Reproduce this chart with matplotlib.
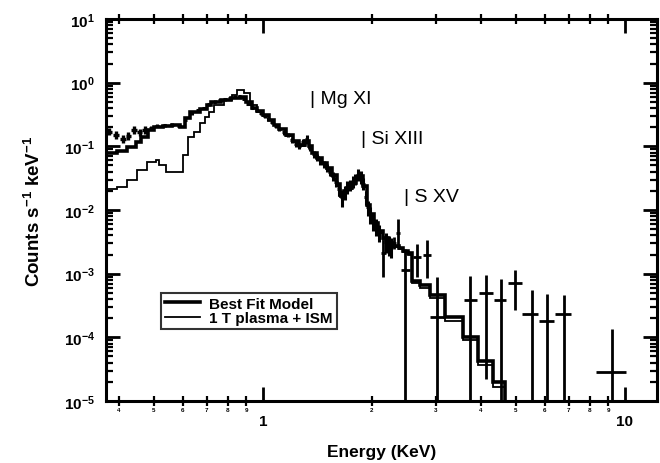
import matplotlib
matplotlib.use("Agg")
import matplotlib.pyplot as plt
from matplotlib.ticker import FixedLocator, FuncFormatter, NullFormatter
import numpy as np

plt.rcParams['font.family'] = ['Liberation Sans', 'DejaVu Sans']
plt.rcParams['mathtext.fontset'] = 'custom'
plt.rcParams['mathtext.rm'] = 'Liberation Sans'
plt.rcParams['mathtext.bf'] = 'Liberation Sans:bold'
plt.rcParams['mathtext.default'] = 'regular'

# ---------------- data ----------------
# Best fit model (step histogram): left bin edges and values, last edge
fit_left = [0.360, 0.395, 0.420, 0.445, 0.460, 0.480, 0.500, 0.530, 0.560, 0.590,
            0.610, 0.630, 0.670, 0.700, 0.720, 0.765, 0.815, 0.870, 0.900, 0.930,
            0.960, 1.000, 1.040, 1.070, 1.110, 1.160, 1.210, 1.260, 1.310, 1.340,
            1.370, 1.410, 1.460, 1.500, 1.550, 1.600, 1.630, 1.670, 1.710, 1.760,
            1.810, 1.850, 1.890, 1.940, 1.980, 2.020, 2.080, 2.140, 2.210, 2.290,
            2.370, 2.440, 2.520, 2.580, 2.720, 2.890, 3.180, 3.570, 3.930, 4.320]
fit_vals = [0.080, 0.086, 0.096, 0.115, 0.140, 0.180, 0.200, 0.210, 0.220, 0.200,
            0.280, 0.340, 0.380, 0.450, 0.500, 0.540, 0.580, 0.600, 0.500, 0.400,
            0.360, 0.310, 0.260, 0.220, 0.190, 0.150, 0.120, 0.105, 0.120, 0.100,
            0.080, 0.066, 0.055, 0.046, 0.035, 0.026, 0.017, 0.020, 0.022, 0.027,
            0.032, 0.034, 0.024, 0.012, 0.0085, 0.0063, 0.0046, 0.0036, 0.0030, 0.0027,
            0.0025, 0.0023, 0.0021, 0.00078, 0.00066, 0.00047, 0.00021, 0.000102, 0.000043, 0.0000200]
fit_end = 4.66

# 1 T plasma + ISM model
pl_left = [0.360, 0.395, 0.420, 0.449, 0.478, 0.506, 0.516, 0.540, 0.568, 0.600,
           0.620, 0.645, 0.670, 0.690, 0.710, 0.730, 0.780, 0.820, 0.850, 0.886,
           0.920, 0.960, 1.000, 1.040, 1.070, 1.110, 1.160, 1.210, 1.260, 1.310,
           1.340, 1.370, 1.410, 1.460, 1.500, 1.550, 1.600, 1.630, 1.670, 1.710,
           1.760, 1.810, 1.850, 1.890, 1.940, 1.980, 2.020, 2.080, 2.140, 2.210,
           2.290, 2.370, 2.440, 2.520, 2.580, 2.720, 2.890, 3.180, 3.570, 3.930, 4.320]
pl_vals = [0.021, 0.023, 0.030, 0.043, 0.057, 0.062, 0.050, 0.039, 0.040, 0.074,
           0.140, 0.170, 0.230, 0.290, 0.350, 0.450, 0.540, 0.650, 0.780, 0.700,
           0.450, 0.350, 0.300, 0.255, 0.215, 0.185, 0.145, 0.118, 0.100, 0.115,
           0.095, 0.078, 0.064, 0.053, 0.044, 0.034, 0.025, 0.016, 0.019, 0.021,
           0.026, 0.031, 0.033, 0.023, 0.0115, 0.0082, 0.0060, 0.0044, 0.0034, 0.0029,
           0.0026, 0.0024, 0.0022, 0.0020, 0.00072, 0.00060, 0.00042, 0.00018, 0.000090, 0.000037, 0.0000165]
pl_end = 4.66

# observed spectrum: low-energy points
low_E = [0.375, 0.393, 0.410, 0.425, 0.440, 0.456, 0.472]
low_C = [0.170, 0.150, 0.130, 0.145, 0.180, 0.165, 0.180]

# observed spectrum: dense middle region
mid_E = [0.490, 0.51, 0.535, 0.56, 0.585, 0.61, 0.635, 0.66, 0.685, 0.71, 0.735, 0.76,
         0.785, 0.81, 0.835, 0.86, 0.885, 0.91, 0.935, 0.96, 0.985, 1.01, 1.035,
         1.06, 1.085, 1.11, 1.14, 1.17, 1.20, 1.23, 1.26, 1.29, 1.32, 1.35, 1.38,
         1.41, 1.44, 1.47, 1.50, 1.53, 1.56, 1.59, 1.62, 1.65, 1.68, 1.71, 1.74,
         1.77, 1.80, 1.83, 1.86, 1.89, 1.92, 1.95, 1.98, 2.01, 2.05, 2.09, 2.18,
         2.23, 2.26]
mid_C = [0.195, 0.21, 0.215, 0.22, 0.21, 0.26, 0.33, 0.37, 0.40, 0.46, 0.50, 0.53,
         0.55, 0.57, 0.60, 0.62, 0.56, 0.47, 0.40, 0.37, 0.33, 0.30, 0.27,
         0.24, 0.21, 0.19, 0.165, 0.15, 0.125, 0.11, 0.10, 0.115, 0.13, 0.095, 0.075,
         0.068, 0.058, 0.052, 0.046, 0.040, 0.034, 0.028, 0.021, 0.016, 0.019, 0.023, 0.025,
         0.028, 0.031, 0.036, 0.033, 0.026, 0.016, 0.011, 0.0085, 0.0068, 0.0055, 0.0045, 0.0032,
         0.0029, 0.0027]
mid_relerr = [0.06, 0.05, 0.05, 0.05, 0.05, 0.05, 0.05, 0.05, 0.05, 0.05, 0.05, 0.05,
              0.05, 0.05, 0.05, 0.05, 0.05, 0.05, 0.05, 0.05, 0.05, 0.06, 0.06,
              0.06, 0.07, 0.07, 0.08, 0.08, 0.09, 0.10, 0.10, 0.12, 0.15, 0.12, 0.12,
              0.12, 0.12, 0.13, 0.14, 0.15, 0.15, 0.18, 0.22, 0.30, 0.25, 0.22, 0.20,
              0.20, 0.20, 0.22, 0.22, 0.22, 0.25, 0.28, 0.30, 0.30, 0.30, 0.30, 0.35,
              0.35, 0.35]

# observed spectrum: sparse high-energy points with asymmetric errors
hi_E   = [2.15, 2.30, 2.36, 2.47, 2.66, 2.84, 3.02, 3.73, 4.13, 4.54, 4.97, 5.53, 6.09, 6.77, 9.20]
hi_Elo = [2.12, 2.27, 2.33, 2.40, 2.59, 2.76, 2.89, 3.59, 3.95, 4.34, 4.75, 5.20, 5.78, 6.40, 8.33]
hi_Ehi = [2.18, 2.33, 2.39, 2.55, 2.74, 2.92, 3.16, 3.90, 4.32, 4.70, 5.20, 5.75, 6.35, 7.10, 10.05]
hi_C   = [2.1e-3, 3.0e-3, 4.4e-3, 1.15e-3, 1.8e-3, 2.0e-3, 2.1e-4, 3.9e-4, 5.0e-4, 3.9e-4,
          7.2e-4, 2.3e-4, 1.8e-4, 2.3e-4, 2.85e-5]
hi_Clo = [8.8e-4, 2.4e-3, 2.6e-3, 1e-6, 9.0e-4, 8.7e-4, 1e-6, 1e-6, 2.2e-5, 1e-6,
          2.7e-4, 1e-6, 1e-6, 1e-6, 1e-6]
hi_Chi = [3.4e-3, 3.7e-3, 7.1e-3, 2.4e-3, 2.9e-3, 3.4e-3, 9.0e-4, 9.3e-4, 9.7e-4, 8.1e-4,
          1.15e-3, 5.6e-4, 4.8e-4, 4.6e-4, 1.37e-4]

lines = [("Mg XI", 1.35, 0.56), ("Si XIII", 1.86, 0.132), ("S XV", 2.46, 0.0163)]

x_major = [1, 10]
x_minor = [0.4, 0.5, 0.6, 0.7, 0.8, 0.9, 2, 3, 4, 5, 6, 7, 8, 9]
y_exps = [-5, -4, -3, -2, -1, 0, 1]

# ---------------- figure ----------------
fig = plt.figure(figsize=(6.6, 4.64), dpi=100)
ax = fig.add_axes([106/660, 1-402/464, (657-106)/660, (402-20)/464])
ax.set_xscale('log')
ax.set_yscale('log')

ax.stairs(fit_vals, fit_left + [fit_end], color='black', lw=2.6, baseline=1e-7,
          label='Best Fit Model', zorder=3)
ax.stairs(pl_vals, pl_left + [pl_end], color='black', lw=1.3, baseline=1e-7,
          label='1 T plasma + ISM', zorder=3)

# low-energy data
lE = np.array(low_E); lC = np.array(low_C)
ax.errorbar(lE, lC, xerr=lE*0.018, yerr=[lC*0.12, lC*0.14], fmt='none',
            ecolor='black', elinewidth=2.4, capsize=0, zorder=4)
# middle data
mE = np.array(mid_E); mC = np.array(mid_C); mr = np.array(mid_relerr)
ax.errorbar(mE, mC, xerr=mE*0.011, yerr=[mC*mr, mC*mr], fmt='none',
            ecolor='black', elinewidth=2.2, capsize=0, zorder=4)
# high-energy data
hE = np.array(hi_E); hC = np.array(hi_C)
ax.errorbar(hE, hC, xerr=[hE-np.array(hi_Elo), np.array(hi_Ehi)-hE],
            yerr=[hC-np.array(hi_Clo), np.array(hi_Chi)-hC], fmt='none',
            ecolor='black', elinewidth=2.0, capsize=0, zorder=4)

for name, e, c in lines:
    ax.text(e, c, "| " + name, fontsize=14, ha='left', va='center')

ax.set_xlim(0.3684, 12.26)
ax.set_ylim(1e-5, 10)

# ticks
ax.xaxis.set_major_locator(FixedLocator(x_major))
ax.xaxis.set_minor_locator(FixedLocator(x_minor))
ax.xaxis.set_major_formatter(FuncFormatter(lambda v, p: "%d" % round(v)))
def minor_fmt(v, p):
    m = v / 10**np.floor(np.log10(v) + 1e-9)
    return "%d" % round(m)
ax.xaxis.set_minor_formatter(FuncFormatter(minor_fmt))
ax.yaxis.set_major_locator(FixedLocator([10.0**k for k in y_exps]))
ax.yaxis.set_major_formatter(FuncFormatter(
    lambda v, p: r"$\mathbf{10^{%d}}$" % round(np.log10(v))))
ax.yaxis.set_minor_locator(FixedLocator([m * 10.0**k for k in y_exps[:-1] for m in range(2, 10)]))
ax.yaxis.set_minor_formatter(NullFormatter())

ax.tick_params(which='major', axis='both', direction='in', length=10, width=2,
               top=True, right=True, labelsize=11)
ax.tick_params(which='minor', axis='both', direction='in', length=5, width=1.6,
               top=True, right=True)
ax.tick_params(which='minor', axis='x', bottom=True, direction='inout', length=7,
               labelsize=4.5, pad=1)
ax.tick_params(which='major', axis='x', pad=9)
ax.tick_params(which='major', axis='y', pad=8)
for lab in ax.get_xticklabels() + ax.get_yticklabels():
    lab.set_fontweight('bold')
for lab in ax.get_xticklabels(minor=True):
    lab.set_fontweight('bold')

for s in ax.spines.values():
    s.set_linewidth(2.2)

ax.set_xlabel("Energy (KeV)", fontsize=12.5, fontweight='bold', labelpad=12)
ax.set_ylabel("Counts s$^{-1}$ keV$^{-1}$", fontsize=13.5, fontweight='bold', labelpad=14)

leg = ax.legend(loc='lower left', bbox_to_anchor=(0.10, 0.188), fontsize=11,
                frameon=True, fancybox=False, edgecolor='black', handlelength=2.3,
                borderpad=0.25, labelspacing=0.05, handletextpad=0.6, borderaxespad=0)
leg.get_frame().set_linewidth(1.5)
for t in leg.get_texts():
    t.set_fontweight('bold')

fig.savefig("out.png", dpi=100)
